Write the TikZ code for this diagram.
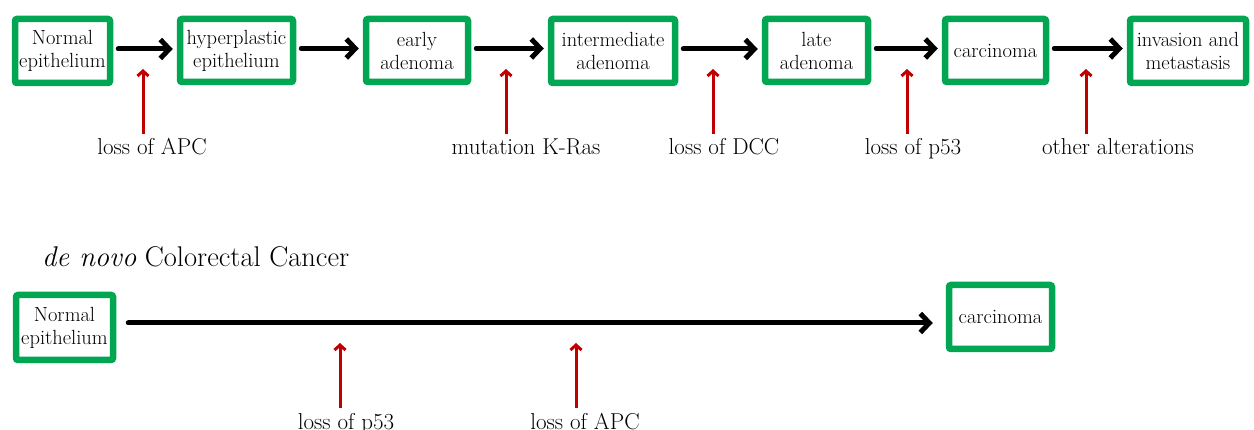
\documentclass[tikz,border=0pt]{standalone}
\usetikzlibrary{arrows.meta}
\definecolor{boxgreen}{RGB}{0,166,81}
\definecolor{arrred}{RGB}{192,0,0}
\begin{document}
\begin{tikzpicture}[x=1pt,y=-1pt,
  stage/.style={draw=boxgreen,line width=6.5pt,rounded corners=2pt,fill=white,
    inner sep=0pt,align=center,font=\fontsize{20.5}{23}\selectfont},
  flow/.style={line width=5pt,line cap=round,
    -{Straight Barb[length=9pt,width=19pt]}},
  hit/.style={draw=arrred,line width=3pt,
    -{Straight Barb[length=5pt,width=11pt]}},
  lbl/.style={inner sep=0pt,anchor=base,font=\fontsize{23}{26}\selectfont}]
\useasboundingbox (0,0) rectangle (1254,430);

% top row
\node[stage,minimum width=95pt,minimum height=64pt] (b1) at (62.5,51) {Normal\\epithelium};
\node[stage,minimum width=113pt,minimum height=63pt] (b2) at (236.5,50.5) {hyperplastic\\epithelium};
\node[stage,minimum width=102pt,minimum height=63pt] (b3) at (417,50.5) {early\\adenoma};
\node[stage,minimum width=124pt,minimum height=64pt] (b4) at (613,51) {intermediate\\adenoma};
\node[stage,minimum width=103pt,minimum height=63pt] (b5) at (816.5,50.5) {late\\adenoma};
\node[stage,minimum width=101pt,minimum height=63pt] (b6) at (995.5,50.5) {carcinoma};
\node[stage,minimum width=116pt,minimum height=64pt] (b7) at (1188,51) {invasion and\\metastasis};

\foreach \a/\b in {b1/b2,b2/b3,b3/b4,b4/b5,b5/b6,b6/b7}
  \draw[flow,shorten <=5pt,shorten >=4pt] ([yshift=2pt]\a.east) -- ([yshift=2pt]\a.east -| \b.west);

% top labels and red arrows
\node[lbl] (l1) at (152,155) {loss of APC};
\node[lbl] (l2) at (526,155) {mutation K-Ras};
\node[lbl] (l3) at (724,155) {loss of DCC};
\node[lbl] (l4) at (913,155) {loss of p53};
\node[lbl] (l5) at (1118,155) {other alterations};
\coordinate (t1) at (143,69);
\coordinate (t2) at (506,69);
\coordinate (t3) at (713,69);
\coordinate (t4) at (907,69);
\coordinate (t5) at (1086,69);
\foreach \i in {1,...,5}
  \draw[hit] ([yshift=5pt]l\i.north -| t\i) -- (t\i);

% de novo
\node[inner sep=0pt,anchor=base west,font=\fontsize{28.5}{32}\selectfont] (title) at (42,267) {\textit{de novo} Colorectal Cancer};

\node[stage,minimum width=97pt,minimum height=65pt] (c1) at (64.5,327.5) {Normal\\epithelium};
\node[stage,minimum width=103pt,minimum height=64pt] (c2) at (1000.5,317) {carcinoma};
\draw[flow,shorten <=12pt,shorten >=13pt] ([yshift=4.5pt]c1.east) -- ([yshift=4.5pt]c1.east -| c2.west);

\node[lbl] (m1) at (346,430) {loss of p53};
\node[lbl] (m2) at (585,430) {loss of APC};
\coordinate (s1) at (340,343);
\coordinate (s2) at (576,343);
\draw[hit] ([yshift=6pt]m1.north -| s1) -- (s1);
\draw[hit] ([yshift=6pt]m2.north -| s2) -- (s2);
\end{tikzpicture}
\end{document}
